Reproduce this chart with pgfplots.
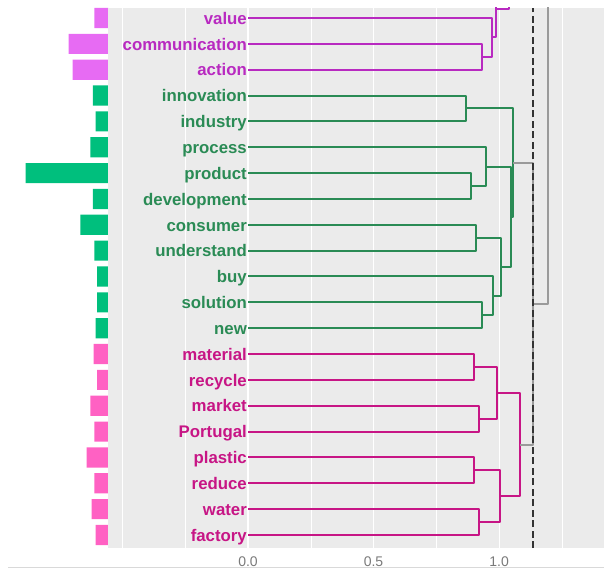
\documentclass[border=0pt]{standalone}
\usepackage{fontspec}
\setmainfont{Liberation Sans}
\usepackage{pgfplots}
\pgfplotsset{compat=1.18}
\definecolor{panel}{HTML}{EBEBEB}
\definecolor{cM}{HTML}{B82AC0}
\definecolor{cG}{HTML}{2A8B55}
\definecolor{cP}{HTML}{C71585}
\definecolor{bM}{HTML}{E76BF3}
\definecolor{bG}{HTML}{00BF7D}
\definecolor{bP}{HTML}{FF61C3}
\definecolor{cR}{HTML}{9A9A9A}
\definecolor{tickgrey}{HTML}{7A7A7A}
\begin{document}
\begin{tikzpicture}
\path[use as bounding box] (0,0) rectangle (604pt,570pt);
\draw[color={rgb,255:red,217;green,217;blue,217}, line width=1pt] (8pt,3pt) -- (604pt,3pt);
% bars
\begin{axis}[
  at={(8pt,22pt)}, anchor=south west,
  scale only axis, width=100.3pt, height=540pt,
  xmin=0, xmax=100.3, x dir=reverse,
  ymin=0.497, ymax=21.387,
  hide axis,
]
\addplot[xbar, bar shift=0pt, bar width=0.78, fill=bM, draw=none] coordinates {(14,21) (39.6,20) (35.6,19)};
\addplot[xbar, bar shift=0pt, bar width=0.78, fill=bG, draw=none] coordinates {(15.3,18) (12.6,17) (18,16) (82.6,15) (15.3,14) (28,13) (14,12) (11.3,11) (11.3,10) (12.6,9)};
\addplot[xbar, bar shift=0pt, bar width=0.78, fill=bP, draw=none] coordinates {(14.6,8) (11.3,7) (18,6) (14,5) (21.6,4) (14,3) (16.6,2) (12.6,1)};
\end{axis}
% dendrogram
\begin{axis}[
  at={(108.3pt,22pt)}, anchor=south west,
  scale only axis, width=495.7pt, height=540pt,
  xmin=-0.5566, xmax=1.418, ymin=0.497, ymax=21.387,
  axis background/.style={fill=panel},
  axis line style={draw=none},
  ytick=\empty,
  xtick={-0.5,0,0.5,1}, xticklabels={,0.0,0.5,1.0},
  minor xtick={-0.25,0.25,0.75,1.25},
  grid=both,
  major grid style={white, line width=1.1pt},
  minor grid style={white, line width=0.55pt},
  major tick length=0pt, minor tick length=0pt,
  tick style={draw=none},
  xticklabel style={font=\fontsize{14}{16}\selectfont, text=tickgrey, anchor=center, yshift=-13.5pt},
  every axis plot/.append style={line width=2pt, line join=round},
  clip=true,
]
% magenta
\addplot[cM] coordinates {(0,20) (0.931,20) (0.931,19) (0,19)};
\addplot[cM] coordinates {(0,21) (0.973,21) (0.973,19.5) (0.931,19.5)};
\addplot[cM] coordinates {(0.973,20.25) (0.988,20.25) (0.988,23)};
\addplot[cM] coordinates {(0.988,21.33) (1.04,21.33) (1.04,23)};
% green
\addplot[cG] coordinates {(0,18) (0.869,18) (0.869,17) (0,17)};
\addplot[cG] coordinates {(0,15) (0.887,15) (0.887,14) (0,14)};
\addplot[cG] coordinates {(0,16) (0.946,16) (0.946,14.5) (0.887,14.5)};
\addplot[cG] coordinates {(0,13) (0.907,13) (0.907,12) (0,12)};
\addplot[cG] coordinates {(0,10) (0.931,10) (0.931,9) (0,9)};
\addplot[cG] coordinates {(0,11) (0.977,11) (0.977,9.5) (0.931,9.5)};
\addplot[cG] coordinates {(0.907,12.5) (1.008,12.5) (1.008,10.25) (0.977,10.25)};
\addplot[cG] coordinates {(0.946,15.25) (1.046,15.25) (1.046,11.375) (1.008,11.375)};
\addplot[cG] coordinates {(0.869,17.5) (1.057,17.5) (1.057,13.3125) (1.046,13.3125)};
% pink
\addplot[cP] coordinates {(0,8) (0.900,8) (0.900,7) (0,7)};
\addplot[cP] coordinates {(0,6) (0.922,6) (0.922,5) (0,5)};
\addplot[cP] coordinates {(0.900,7.5) (0.993,7.5) (0.993,5.5) (0.922,5.5)};
\addplot[cP] coordinates {(0,4) (0.902,4) (0.902,3) (0,3)};
\addplot[cP] coordinates {(0,2) (0.922,2) (0.922,1) (0,1)};
\addplot[cP] coordinates {(0.902,3.5) (1.002,3.5) (1.002,1.5) (0.922,1.5)};
\addplot[cP] coordinates {(0.993,6.5) (1.084,6.5) (1.084,2.5) (1.002,2.5)};
% grey top links
\addplot[cR] coordinates {(1.057,15.406) (1.134,15.406) (1.134,4.5) (1.084,4.5)};
\addplot[cR] coordinates {(1.134,9.953) (1.195,9.953) (1.195,23)};
% cut line
\addplot[color={rgb,255:red,51;green,51;blue,51}, line width=2pt, dash pattern=on 7pt off 3.5pt] coordinates {(1.134,0.497) (1.134,21.387)};
% leaf labels
\tikzset{leaf/.style={anchor=base east, yshift=-6.2pt, inner sep=1pt, font=\fontsize{16.8}{18}\selectfont\bfseries}}
\node[leaf, text=cM] at (axis cs:0,21) {value};
\node[leaf, text=cM] at (axis cs:0,20) {communication};
\node[leaf, text=cM] at (axis cs:0,19) {action};
\node[leaf, text=cG] at (axis cs:0,18) {innovation};
\node[leaf, text=cG] at (axis cs:0,17) {industry};
\node[leaf, text=cG] at (axis cs:0,16) {process};
\node[leaf, text=cG] at (axis cs:0,15) {product};
\node[leaf, text=cG] at (axis cs:0,14) {development};
\node[leaf, text=cG] at (axis cs:0,13) {consumer};
\node[leaf, text=cG] at (axis cs:0,12) {understand};
\node[leaf, text=cG] at (axis cs:0,11) {buy};
\node[leaf, text=cG] at (axis cs:0,10) {solution};
\node[leaf, text=cG] at (axis cs:0,9) {new};
\node[leaf, text=cP] at (axis cs:0,8) {material};
\node[leaf, text=cP] at (axis cs:0,7) {recycle};
\node[leaf, text=cP] at (axis cs:0,6) {market};
\node[leaf, text=cP] at (axis cs:0,5) {Portugal};
\node[leaf, text=cP] at (axis cs:0,4) {plastic};
\node[leaf, text=cP] at (axis cs:0,3) {reduce};
\node[leaf, text=cP] at (axis cs:0,2) {water};
\node[leaf, text=cP] at (axis cs:0,1) {factory};
\end{axis}
\end{tikzpicture}
\end{document}
